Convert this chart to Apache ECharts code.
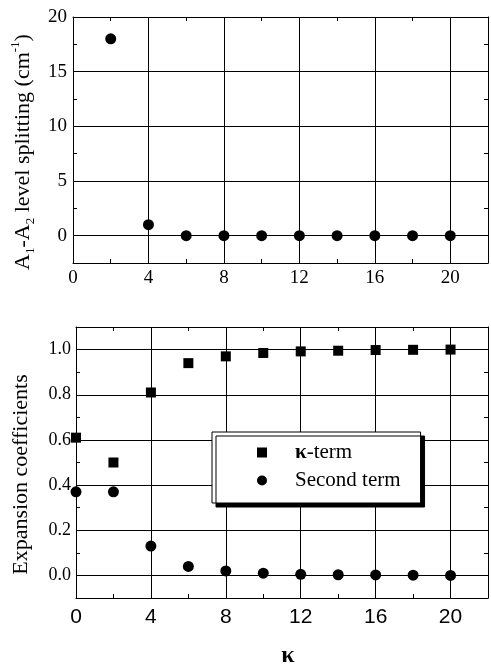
<!DOCTYPE html>
<html>
<head>
<meta charset="utf-8">
<script src="https://cdn.jsdelivr.net/npm/echarts@6/dist/echarts.min.js"></script>
<style>
  html, body { margin: 0; padding: 0; background: #fff; }
  #chart { width: 491px; height: 669px; }
</style>
</head>
<body>
<div id="chart"></div>
<script>
// top panel: A1-A2 splitting vs kappa
var splitK = [2, 4, 6, 8, 10, 12, 14, 16, 18, 20];
var splitVals = [18, 1.0, 0, 0, 0, 0, 0, 0, 0, 0];

// bottom panel: expansion coefficients
var coefK = [0, 2, 4, 6, 8, 10, 12, 14, 16, 18, 20];
var kappaTerm = [0.61, 0.50, 0.81, 0.94, 0.97, 0.985, 0.992, 0.995, 0.998, 0.999, 1.0];
var secondTerm = [0.37, 0.37, 0.13, 0.04, 0.02, 0.01, 0.005, 0.003, 0.002, 0.001, 0.0];

var xLabelsShown = [0, 4, 8, 12, 16, 20];
var topYLabels = [0, 5, 10, 15, 20];

var serif = '"Liberation Serif", "Times New Roman", serif';
var sans = '"Liberation Sans", Arial, sans-serif';

function pairs(xs, ys) {
    return xs.map(function (x, i) { return [x, ys[i]]; });
}

// mirror axis (top / right), ticks only
function mirror(base, pos, gridIndex) {
    return Object.assign({}, base, {
        position: pos,
        gridIndex: gridIndex,
        name: '',
        axisLabel: { show: false },
        splitLine: { show: false }
    });
}

var axisLine = { show: true, onZero: false, lineStyle: { color: '#000', width: 1 } };
var tick = { show: true, inside: true, length: 4, lineStyle: { color: '#000' } };

var xTop = {
    type: 'value', gridIndex: 0, min: 0, max: 22, interval: 2,
    axisLine: axisLine, axisTick: tick,
    axisLabel: {
        color: '#000', fontFamily: serif, fontSize: 19, margin: 6,
        formatter: function (v) { return xLabelsShown.indexOf(v) >= 0 ? String(v) : ''; }
    },
    splitLine: { show: true, lineStyle: { color: ['#000', 'transparent'], width: 1 } }
};
var yTop = {
    type: 'value', gridIndex: 0, min: -2.5, max: 20, interval: 2.5,
    axisLine: axisLine, axisTick: tick,
    axisLabel: {
        color: '#000', fontFamily: serif, fontSize: 19, margin: 6,
        formatter: function (v) { return topYLabels.indexOf(v) >= 0 ? String(v) : ''; }
    },
    splitLine: { show: true, lineStyle: { color: ['transparent', '#000'], width: 1 } },
    name: '{a|A}{s|1}{a|-A}{s|2}{a| level splitting (cm}{p|-1}{a|)}',
    nameLocation: 'middle', nameRotate: 90, nameGap: 31,
    nameTextStyle: {
        color: '#000',
        padding: [0, 24, 0, 0],
        rich: {
            a: { fontFamily: serif, fontSize: 22, lineHeight: 28, verticalAlign: 'middle', color: '#000' },
            s: { fontFamily: serif, fontSize: 13, lineHeight: 13, verticalAlign: 'bottom', color: '#000' },
            p: { fontFamily: serif, fontSize: 13, lineHeight: 13, verticalAlign: 'top', color: '#000' }
        }
    }
};

var xBot = {
    type: 'value', gridIndex: 1, min: 0, max: 22, interval: 2,
    axisLine: axisLine, axisTick: tick,
    axisLabel: {
        color: '#000', fontFamily: sans, fontSize: 21, margin: 9,
        formatter: function (v) { return xLabelsShown.indexOf(v) >= 0 ? String(v) : ''; }
    },
    splitLine: { show: true, lineStyle: { color: ['#000', 'transparent'], width: 1 } },
    name: 'κ', nameLocation: 'middle', nameGap: 46,
    nameTextStyle: { color: '#000', fontFamily: serif, fontWeight: 'bold', fontSize: 24, padding: [0, 0, 0, 12] }
};
var yBot = {
    type: 'value', gridIndex: 1, min: -0.1, max: 1.1, interval: 0.1,
    axisLine: axisLine, axisTick: tick,
    axisLabel: {
        color: '#000', fontFamily: serif, fontSize: 18, margin: 5,
        formatter: function (v) {
            var n = Math.round(v * 10);
            if (n % 2 !== 0) return '';
            return (n / 10).toFixed(1);
        }
    },
    splitLine: { show: true, lineStyle: { color: ['transparent', '#000'], width: 1 } },
    name: 'Expansion coefficients', nameLocation: 'middle', nameRotate: 90, nameGap: 44,
    nameTextStyle: { color: '#000', fontFamily: serif, fontSize: 22, padding: [0, 24, 0, 0] }
};

var option = {
    backgroundColor: '#fff',
    animation: false,
    grid: [
        { left: 73, top: 17, width: 419, height: 246 },
        { left: 76, top: 327, width: 416, height: 275 }
    ],
    xAxis: [xTop, xBot, mirror(xTop, 'top', 0), mirror(xBot, 'top', 1)],
    yAxis: [yTop, yBot, mirror(yTop, 'right', 0), mirror(yBot, 'right', 1)],
    legend: {
        orient: 'vertical',
        left: 212, top: 432,
        padding: [10, 20, 12, 45],
        itemGap: 7,
        itemWidth: 10, itemHeight: 10,
        backgroundColor: '#fff',
        borderColor: '#000', borderWidth: 1, borderRadius: 0,
        shadowColor: '#000', shadowBlur: 0, shadowOffsetX: 4, shadowOffsetY: 4,
        data: [
            { name: 'κ-term', icon: 'rect' },
            { name: 'Second term', icon: 'circle' }
        ],
        formatter: function (name) {
            if (name === 'κ-term') return '{b|κ}{t|-term}';
            return '{t|' + name + '}';
        },
        textStyle: {
            color: '#000', fontFamily: serif, fontSize: 21, lineHeight: 20, padding: [0, 0, 0, 23],
            rich: {
                b: { fontFamily: serif, fontSize: 21, fontWeight: 'bold', color: '#000' },
                t: { fontFamily: serif, fontSize: 21, color: '#000' }
            }
        }
    },
    series: [
        {
            name: 'splitting', type: 'scatter', xAxisIndex: 0, yAxisIndex: 0,
            symbol: 'circle', symbolSize: 11,
            itemStyle: { color: '#000', opacity: 1 },
            data: pairs(splitK, splitVals)
        },
        {
            name: 'κ-term', type: 'scatter', xAxisIndex: 1, yAxisIndex: 1,
            symbol: 'rect', symbolSize: 10,
            itemStyle: { color: '#000', opacity: 1 },
            data: pairs(coefK, kappaTerm)
        },
        {
            name: 'Second term', type: 'scatter', xAxisIndex: 1, yAxisIndex: 1,
            symbol: 'circle', symbolSize: 11,
            itemStyle: { color: '#000', opacity: 1 },
            data: pairs(coefK, secondTerm)
        }
    ]
};

var myChart = echarts.init(document.getElementById('chart'));
myChart.setOption(option);
</script>
</body>
</html>
